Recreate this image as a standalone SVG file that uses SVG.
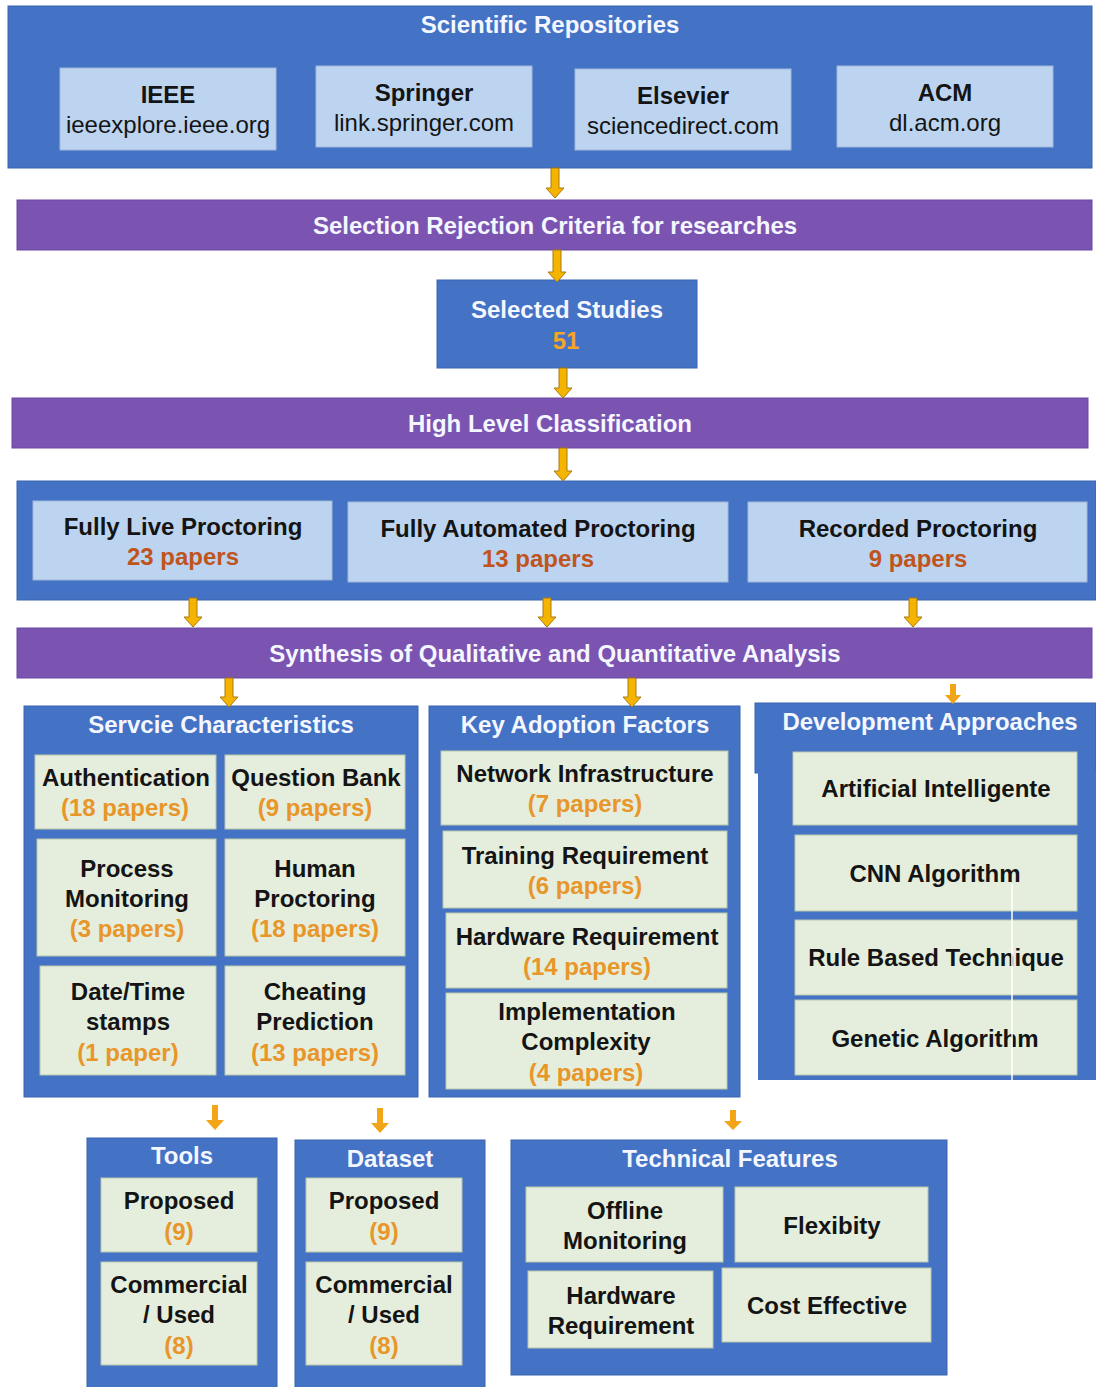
<svg xmlns="http://www.w3.org/2000/svg" width="1096" height="1387" viewBox="0 0 1096 1387">
  <style>
    text { font-family: "Liberation Sans", Arial, Helvetica, sans-serif; font-size: 24px; text-anchor: middle; }
    .b { font-weight: bold; }
    .title { font-weight: bold; fill: #F4F7FF; }
    .dark { fill: #141414; }
    .num { font-weight: bold; fill: #E8962A; }
    .red { font-weight: bold; fill: #C0541E; }
    .gold { font-weight: bold; fill: #F5A623; }
    .cont { fill: #4472C4; stroke: #3B64B0; stroke-width: 1; }
    .bar { fill: #7B54B2; stroke: #6A46A0; stroke-width: 1; }
    .lb { fill: #BCD4F0; stroke: #9FB8DC; stroke-width: 1; }
    .lg { fill: #E5EEDC; stroke: #B9C6AE; stroke-width: 1; }
    .arr { fill: #F5B400; stroke: #A87A10; stroke-width: 1; }
    .arr2 { fill: #F2A516; stroke: none; }
  </style>

  <rect width="1096" height="1387" fill="#FFFFFF"/>

  <!-- Scientific repositories -->
  <g id="repositories">
    <rect class="cont" x="8" y="6" width="1084" height="162"/>
    <text class="title" x="550" y="33">Scientific Repositories</text>
  </g>
  <g id="ieee">
    <rect class="lb" x="60" y="68" width="216" height="82"/>
    <text class="b dark" x="168" y="103">IEEE</text>
    <text class="dark" x="168" y="133">ieeexplore.ieee.org</text>
  </g>
  <g id="springer">
    <rect class="lb" x="316" y="66" width="216" height="81"/>
    <text class="b dark" x="424" y="101">Springer</text>
    <text class="dark" x="424" y="131">link.springer.com</text>
  </g>
  <g id="elsevier">
    <rect class="lb" x="575" y="69" width="216" height="81"/>
    <text class="b dark" x="683" y="104">Elsevier</text>
    <text class="dark" x="683" y="134">sciencedirect.com</text>
  </g>
  <g id="acm">
    <rect class="lb" x="837" y="66" width="216" height="81"/>
    <text class="b dark" x="945" y="101">ACM</text>
    <text class="dark" x="945" y="131">dl.acm.org</text>
  </g>

  <!-- Screening stages -->
  <g id="selection-criteria">
    <rect class="bar" x="17" y="200" width="1075" height="50"/>
    <text class="title" x="555" y="234">Selection Rejection Criteria for researches</text>
  </g>
  <g id="selected-studies">
    <rect class="cont" x="437" y="280" width="260" height="88"/>
    <text class="title" x="567" y="318">Selected Studies</text>
    <text class="gold" x="566" y="349">51</text>
  </g>
  <g id="high-level-classification">
    <rect class="bar" x="12" y="398" width="1076" height="50"/>
    <text class="title" x="550" y="432">High Level Classification</text>
  </g>

  <!-- Proctoring categories -->
  <g id="classification">
    <rect class="cont" x="17" y="481" width="1079" height="119"/>
  </g>
  <g id="fully-live">
    <rect class="lb" x="33" y="501" width="299" height="79"/>
    <text class="b dark" x="183" y="535">Fully Live Proctoring</text>
    <text class="red" x="183" y="565">23 papers</text>
  </g>
  <g id="fully-automated">
    <rect class="lb" x="348" y="502" width="380" height="80"/>
    <text class="b dark" x="538" y="537">Fully Automated Proctoring</text>
    <text class="red" x="538" y="567">13 papers</text>
  </g>
  <g id="recorded">
    <rect class="lb" x="748" y="502" width="339" height="80"/>
    <text class="b dark" x="918" y="537">Recorded Proctoring</text>
    <text class="red" x="918" y="567">9 papers</text>
  </g>

  <g id="synthesis">
    <rect class="bar" x="17" y="628" width="1075" height="50"/>
    <text class="title" x="555" y="662">Synthesis of Qualitative and Quantitative Analysis</text>
  </g>

  <!-- Service characteristics -->
  <g id="service-characteristics">
    <rect class="cont" x="24" y="706" width="394" height="391"/>
    <text class="title" x="221" y="733">Servcie Characteristics</text>
  </g>
  <g id="authentication">
    <rect class="lg" x="35" y="755" width="181" height="74"/>
    <text class="b dark" x="126" y="786">Authentication</text>
    <text class="num" x="125" y="816">(18 papers)</text>
  </g>
  <g id="question-bank">
    <rect class="lg" x="225" y="755" width="180" height="74"/>
    <text class="b dark" x="316" y="786">Question Bank</text>
    <text class="num" x="315" y="816">(9 papers)</text>
  </g>
  <g id="process-monitoring">
    <rect class="lg" x="37" y="839" width="179" height="117"/>
    <text class="b dark" x="127" y="877">Process</text>
    <text class="b dark" x="127" y="907">Monitoring</text>
    <text class="num" x="127" y="937">(3 papers)</text>
  </g>
  <g id="human-proctoring">
    <rect class="lg" x="225" y="839" width="180" height="117"/>
    <text class="b dark" x="315" y="877">Human</text>
    <text class="b dark" x="315" y="907">Proctoring</text>
    <text class="num" x="315" y="937">(18 papers)</text>
  </g>
  <g id="date-time">
    <rect class="lg" x="40" y="966" width="176" height="109"/>
    <text class="b dark" x="128" y="1000">Date/Time</text>
    <text class="b dark" x="128" y="1030">stamps</text>
    <text class="num" x="128" y="1061">(1 paper)</text>
  </g>
  <g id="cheating-prediction">
    <rect class="lg" x="225" y="966" width="180" height="109"/>
    <text class="b dark" x="315" y="1000">Cheating</text>
    <text class="b dark" x="315" y="1030">Prediction</text>
    <text class="num" x="315" y="1061">(13 papers)</text>
  </g>

  <!-- Key adoption factors -->
  <g id="key-adoption-factors">
    <rect class="cont" x="429" y="706" width="311" height="391"/>
    <text class="title" x="585" y="733">Key Adoption Factors</text>
  </g>
  <g id="network-infrastructure">
    <rect class="lg" x="441" y="751" width="287" height="74"/>
    <text class="b dark" x="585" y="782">Network Infrastructure</text>
    <text class="num" x="585" y="812">(7 papers)</text>
  </g>
  <g id="training-requirement">
    <rect class="lg" x="443" y="831" width="284" height="77"/>
    <text class="b dark" x="585" y="864">Training Requirement</text>
    <text class="num" x="585" y="894">(6 papers)</text>
  </g>
  <g id="hardware-requirement">
    <rect class="lg" x="446" y="913" width="281" height="75"/>
    <text class="b dark" x="587" y="945">Hardware Requirement</text>
    <text class="num" x="587" y="975">(14 papers)</text>
  </g>
  <g id="implementation-complexity">
    <rect class="lg" x="446" y="993" width="281" height="96"/>
    <text class="b dark" x="587" y="1020">Implementation</text>
    <text class="b dark" x="586" y="1050">Complexity</text>
    <text class="num" x="586" y="1081">(4 papers)</text>
  </g>

  <!-- Development approaches -->
  <g id="development-approaches">
    <rect class="cont" x="755" y="703" width="341" height="70"/>
    <rect fill="#4472C4" x="758" y="772" width="338" height="308"/>
    <text class="title" x="930" y="730">Development Approaches</text>
  </g>
  <g id="artificial-intelligence">
    <rect class="lg" x="793" y="752" width="284" height="73"/>
    <text class="b dark" x="936" y="797">Artificial Intelligente</text>
  </g>
  <g id="cnn-algorithm">
    <rect class="lg" x="795" y="835" width="282" height="76"/>
    <text class="b dark" x="935" y="882">CNN Algorithm</text>
  </g>
  <g id="rule-based">
    <rect class="lg" x="795" y="920" width="282" height="75"/>
    <text class="b dark" x="936" y="966">Rule Based Technique</text>
  </g>
  <g id="genetic-algorithm">
    <rect class="lg" x="795" y="1000" width="282" height="75"/>
    <text class="b dark" x="935" y="1047">Genetic Algorithm</text>
  </g>
  <line x1="1012" y1="884" x2="1012" y2="1080" stroke="#FFFFFF" stroke-width="1.5"/>

  <!-- Tools -->
  <g id="tools">
    <rect class="cont" x="87" y="1138" width="190" height="255"/>
    <text class="title" x="182" y="1164">Tools</text>
  </g>
  <g id="tools-proposed">
    <rect class="lg" x="101" y="1178" width="156" height="74"/>
    <text class="b dark" x="179" y="1209">Proposed</text>
    <text class="num" x="179" y="1240">(9)</text>
  </g>
  <g id="tools-commercial">
    <rect class="lg" x="101" y="1262" width="156" height="103"/>
    <text class="b dark" x="179" y="1293">Commercial</text>
    <text class="b dark" x="179" y="1323">/ Used</text>
    <text class="num" x="179" y="1354">(8)</text>
  </g>

  <!-- Dataset -->
  <g id="dataset">
    <rect class="cont" x="295" y="1140" width="190" height="253"/>
    <text class="title" x="390" y="1167">Dataset</text>
  </g>
  <g id="dataset-proposed">
    <rect class="lg" x="306" y="1178" width="156" height="74"/>
    <text class="b dark" x="384" y="1209">Proposed</text>
    <text class="num" x="384" y="1240">(9)</text>
  </g>
  <g id="dataset-commercial">
    <rect class="lg" x="306" y="1262" width="156" height="103"/>
    <text class="b dark" x="384" y="1293">Commercial</text>
    <text class="b dark" x="384" y="1323">/ Used</text>
    <text class="num" x="384" y="1354">(8)</text>
  </g>

  <!-- Technical features -->
  <g id="technical-features">
    <rect class="cont" x="511" y="1140" width="436" height="235"/>
    <text class="title" x="730" y="1167">Technical Features</text>
  </g>
  <g id="offline-monitoring">
    <rect class="lg" x="526" y="1187" width="197" height="75"/>
    <text class="b dark" x="625" y="1219">Offline</text>
    <text class="b dark" x="625" y="1249">Monitoring</text>
  </g>
  <g id="flexibility">
    <rect class="lg" x="735" y="1187" width="193" height="75"/>
    <text class="b dark" x="832" y="1234">Flexibity</text>
  </g>
  <g id="tf-hardware-requirement">
    <rect class="lg" x="528" y="1271" width="185" height="77"/>
    <text class="b dark" x="621" y="1304">Hardware</text>
    <text class="b dark" x="621" y="1334">Requirement</text>
  </g>
  <g id="cost-effective">
    <rect class="lg" x="722" y="1268" width="209" height="74"/>
    <text class="b dark" x="827" y="1314">Cost Effective</text>
  </g>

  <!-- Connectors -->
  <g id="connectors">
    <polygon class="arr" points="551,168 559,168 559,188 564,188 555,198 546,188 551,188"/>
    <polygon class="arr" points="553,250 561,250 561,272 566,272 557,282 548,272 553,272"/>
    <polygon class="arr" points="559,368 567,368 567,388 572,388 563,398 554,388 559,388"/>
    <polygon class="arr" points="559,448 567,448 567,471 572,471 563,481 554,471 559,471"/>
    <polygon class="arr" points="189,598 197,598 197,617 202,617 193,627 184,617 189,617"/>
    <polygon class="arr" points="543,598 551,598 551,617 556,617 547,627 538,617 543,617"/>
    <polygon class="arr" points="909,598 917,598 917,617 922,617 913,627 904,617 909,617"/>
    <polygon class="arr" points="225,678 233,678 233,697 238,697 229,707 220,697 225,697"/>
    <polygon class="arr" points="628,678 636,678 636,697 641,697 632,707 623,697 628,697"/>
    <polygon class="arr2" points="950,684 956,684 956,695 961,695 953,704 945,695 950,695"/>
    <polygon class="arr2" points="212,1105 218,1105 218,1120 224,1120 215,1130 206,1120 212,1120"/>
    <polygon class="arr2" points="377,1108 383,1108 383,1123 389,1123 380,1133 371,1123 377,1123"/>
    <polygon class="arr2" points="730,1110 736,1110 736,1121 742,1121 733,1130 724,1121 730,1121"/>
  </g>
</svg>
